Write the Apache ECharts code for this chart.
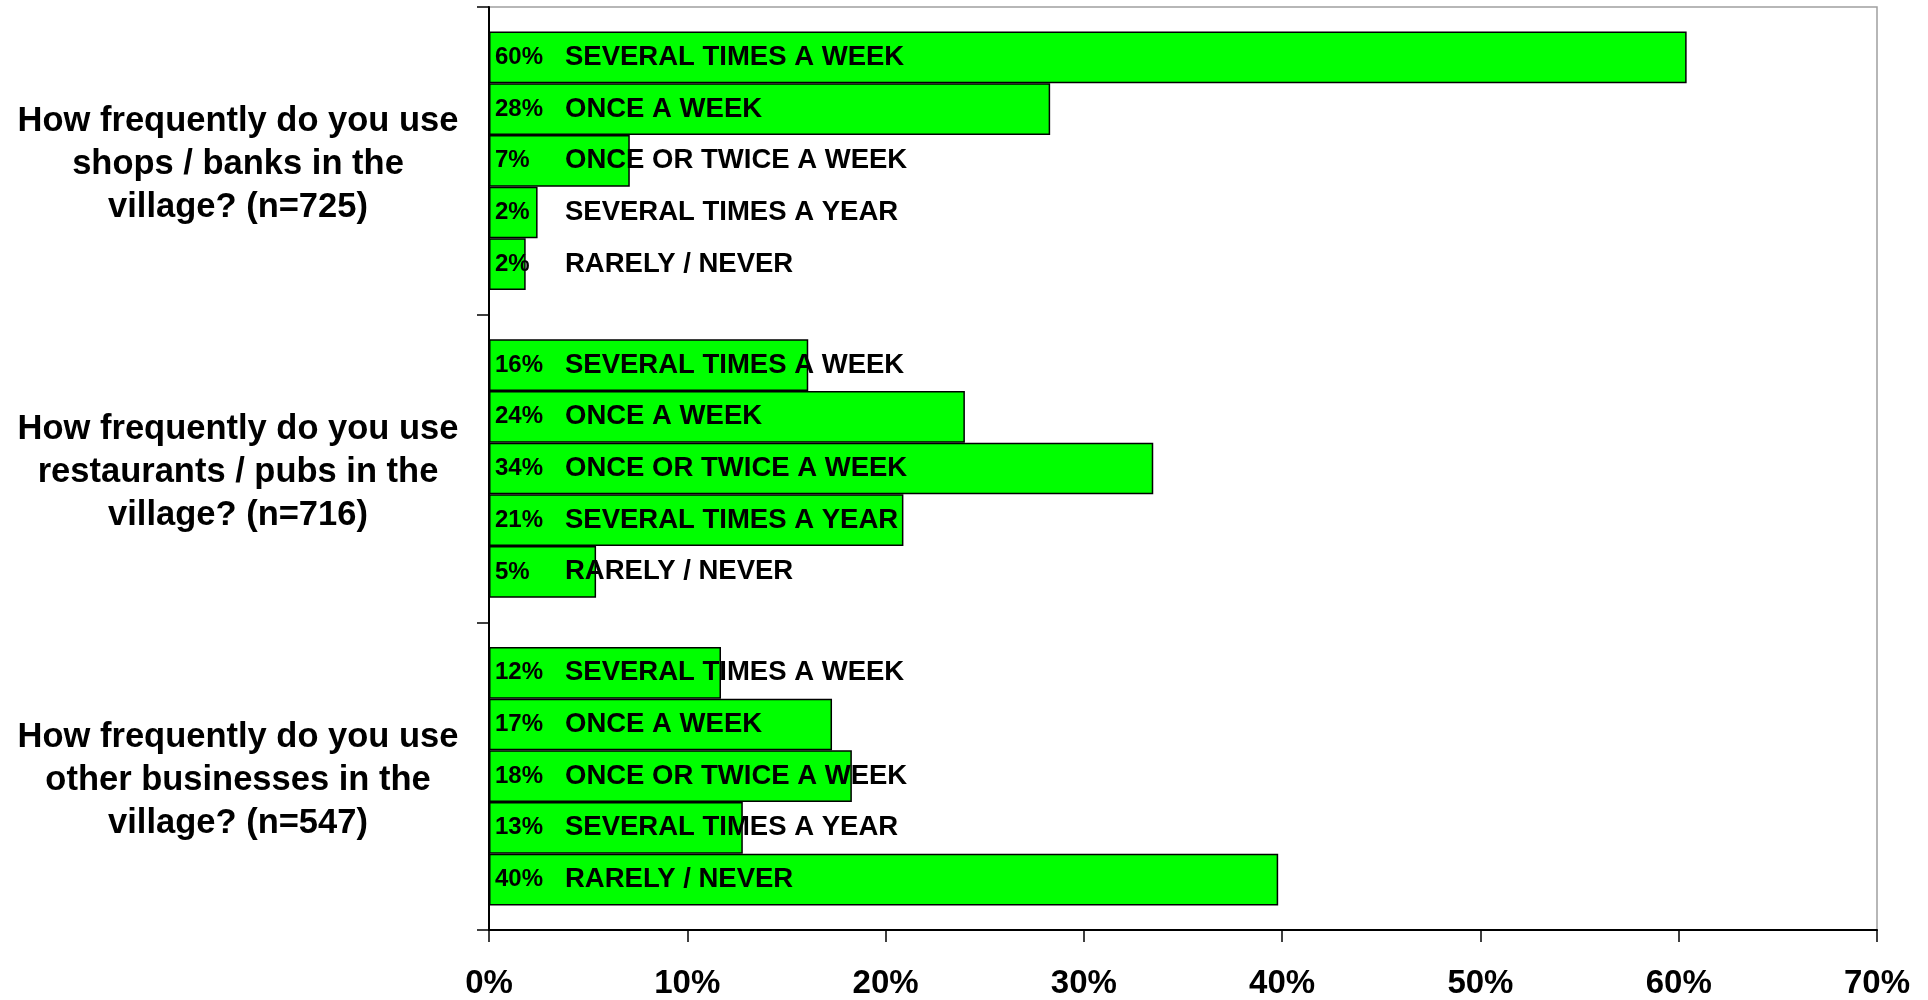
<!DOCTYPE html>
<html>
<head>
<meta charset="utf-8">
<script src="https://cdn.jsdelivr.net/npm/echarts@6/dist/echarts.min.js"></script>
<style>
html,body{margin:0;padding:0;background:#fff;}
#chart{width:1928px;height:1000px;}
</style>
</head>
<body>
<div id="chart"></div>
<script>
// Questions (y categories)
var questions = [
  'How frequently do you use\nshops / banks in the\nvillage? (n=725)',
  'How frequently do you use\nrestaurants / pubs in the\nvillage? (n=716)',
  'How frequently do you use\nother businesses in the\nvillage? (n=547)'
];
// Frequency answers (series)
var frequencies = ['SEVERAL TIMES A WEEK', 'ONCE A WEEK', 'ONCE OR TWICE A WEEK', 'SEVERAL TIMES A YEAR', 'RARELY / NEVER'];
// Values (%) per frequency, one per question
var severalWeek = [60.4, 16.1, 11.7];
var onceWeek = [28.3, 24.0, 17.3];
var onceTwiceWeek = [7.1, 33.5, 18.3];
var severalYear = [2.45, 20.9, 12.8];
var rarelyNever = [1.85, 5.4, 39.8];
// X tick settings
var xMin = 0, xMax = 70, xStep = 10;

var seriesValues = [severalWeek, onceWeek, onceTwiceWeek, severalYear, rarelyNever];
var FONT = "'Liberation Sans', Arial, sans-serif";

var series = frequencies.map(function (name, i) {
  return {
    name: name,
    type: 'bar',
    data: seriesValues[i],
    barGap: '0%',
    barCategoryGap: '16%',
    itemStyle: { color: '#00ff00', borderColor: '#000', borderWidth: 1.5 },
    label: {
      show: true,
      position: 'insideLeft',
      distance: 6,
      formatter: function (p) {
        return '{p|' + Math.round(p.value) + '%}{t|' + p.seriesName + '}';
      },
      rich: {
        p: { fontSize: 24, fontWeight: 'bold', color: '#000', fontFamily: FONT, width: 70 },
        t: { fontSize: 27.5, fontWeight: 'bold', color: '#000', fontFamily: FONT }
      }
    }
  };
});

var chart = echarts.init(document.getElementById('chart'));
chart.setOption({
  animation: false,
  backgroundColor: '#fff',
  grid: { left: 489, right: 51, top: 7, bottom: 67, show: true, borderColor: '#a0a0a0', borderWidth: 1.5, backgroundColor: '#fff' },
  xAxis: {
    type: 'value', min: xMin, max: xMax, interval: xStep,
    axisLine: { show: true, lineStyle: { color: '#000', width: 2 } },
    axisTick: { show: true, length: 12, lineStyle: { color: '#000', width: 1.5 } },
    splitLine: { show: false },
    axisLabel: { formatter: '{value}%', fontSize: 33, fontWeight: 'bold', color: '#000', fontFamily: FONT, margin: 37 }
  },
  yAxis: {
    type: 'category', data: questions, inverse: true,
    axisLine: { show: true, lineStyle: { color: '#000', width: 2 } },
    axisTick: { show: true, length: 12, lineStyle: { color: '#000', width: 1.5 } },
    axisLabel: {
      color: '#000', align: 'center', margin: 251,
      formatter: function (v) {
        return '{g| }\n' + v.split('\n').map(function (l) { return '{q|' + l + '}'; }).join('\n');
      },
      rich: {
        g: { fontSize: 4, lineHeight: 8 },
        q: { fontSize: 34.5, fontWeight: 'bold', color: '#000', fontFamily: FONT, lineHeight: 43, align: 'center' }
      }
    }
  },
  series: series
});
</script>
</body>
</html>
